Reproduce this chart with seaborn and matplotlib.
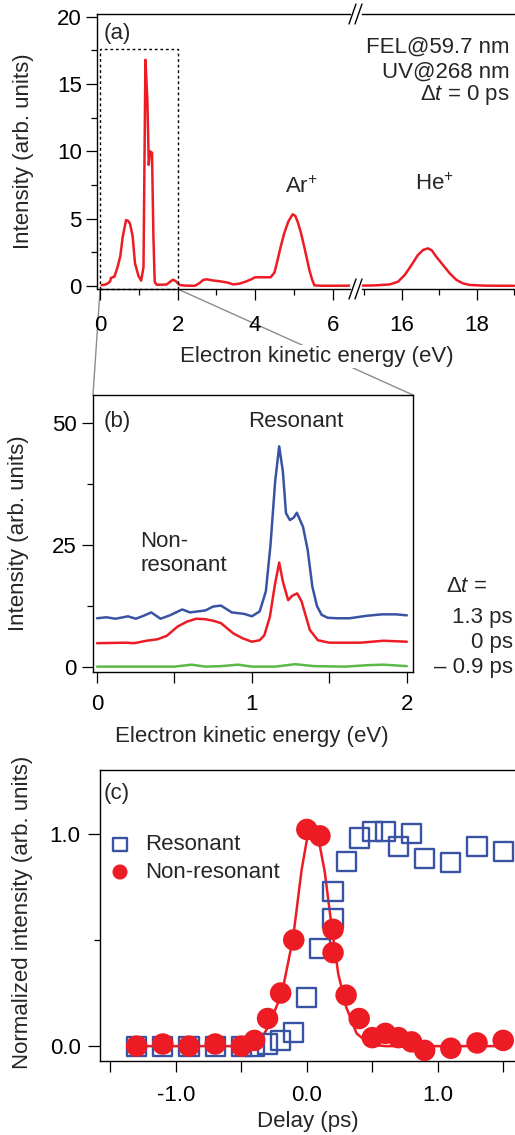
import matplotlib
matplotlib.use("Agg")
import numpy as np
import pandas as pd
import matplotlib.pyplot as plt
import seaborn as sns
from matplotlib.patches import Rectangle, ConnectionPatch
from matplotlib.lines import Line2D
from matplotlib.ticker import MultipleLocator, FixedLocator, FuncFormatter

# ---------------- data ----------------
# (a) photoelectron spectrum, Delta t = 0 ps, low-energy segment
a_low_energy = [0.04, 0.12, 0.20, 0.26, 0.28, 0.37, 0.45, 0.52, 0.585, 0.67, 0.72, 0.77,
                0.84, 0.90, 0.99, 1.06, 1.12, 1.17, 1.22, 1.256, 1.29, 1.34, 1.376, 1.41,
                1.46, 1.60, 1.72, 1.80, 1.88, 1.96, 2.05, 2.20, 2.45, 2.58, 2.66, 2.75,
                2.90, 3.10, 3.30, 3.44, 3.60, 3.75, 3.90, 4.00, 4.20, 4.40, 4.50, 4.57,
                4.66, 4.75, 4.86, 4.97, 5.04, 5.10, 5.18, 5.27, 5.34, 5.40, 5.47, 5.53,
                5.70, 6.00, 6.45]
a_low_intensity = [0.07, 0.10, 0.20, 0.35, 0.60, 0.70, 1.40, 2.20, 3.67, 4.90, 4.85, 4.65,
                   3.70, 1.70, 0.75, 0.40, 1.40, 16.8, 13.8, 9.0, 10.0, 9.9, 3.67, 0.30,
                   0.10, 0.10, 0.12, 0.30, 0.47, 0.35, 0.08, 0.03, 0.02, 0.25, 0.45, 0.50,
                   0.42, 0.35, 0.25, 0.12, 0.18, 0.32, 0.50, 0.65, 0.65, 0.65, 1.00, 1.80,
                   2.90, 3.90, 4.80, 5.33, 5.20, 4.76, 4.00, 2.90, 2.00, 1.20, 0.50, 0.05,
                   0.02, 0.02, 0.03]
# (a) high-energy segment (He+)
a_high_energy = [14.95, 15.30, 15.68, 15.90, 16.08, 16.26, 16.43, 16.57, 16.70, 16.80,
                 16.92, 17.10, 17.28, 17.46, 17.63, 17.81, 18.20, 18.60, 19.00]
a_high_intensity = [0.03, 0.05, 0.12, 0.32, 0.82, 1.56, 2.30, 2.68, 2.80, 2.65,
                    2.18, 1.56, 0.94, 0.45, 0.20, 0.08, 0.03, 0.02, 0.02]

# (b) spectra at three delays (offset)
b_energy_pos = [0.00, 0.06, 0.12, 0.20, 0.25, 0.30, 0.35, 0.41, 0.47, 0.55, 0.60, 0.70,
                0.75, 0.80, 0.87, 0.95, 1.00, 1.05, 1.09, 1.12, 1.15, 1.176, 1.20, 1.22,
                1.245, 1.27, 1.29, 1.33, 1.36, 1.39, 1.42, 1.45, 1.49, 1.55, 1.63, 1.74,
                1.84, 1.93, 2.00]
b_int_pos = [10.0, 10.2, 9.9, 10.4, 9.9, 10.5, 11.2, 9.9, 10.6, 11.8, 11.2, 11.6,
             12.4, 12.6, 11.2, 10.9, 10.4, 11.4, 15.5, 25.0, 38.0, 45.2, 40.0, 31.5,
             30.1, 30.6, 31.6, 28.7, 24.0, 16.5, 12.5, 10.7, 10.1, 10.0, 10.0, 10.5,
             10.8, 10.8, 10.6]
b_energy_zero = [0.00, 0.19, 0.24, 0.32, 0.39, 0.45, 0.52, 0.58, 0.64, 0.70, 0.75, 0.80,
                 0.88, 0.94, 1.00, 1.05, 1.08, 1.116, 1.148, 1.176, 1.20, 1.234, 1.26,
                 1.292, 1.32, 1.374, 1.426, 1.50, 1.70, 1.85, 2.00]
b_int_zero = [4.9, 5.0, 4.9, 5.4, 5.7, 6.4, 8.3, 9.3, 9.9, 9.8, 9.5, 9.0,
              6.9, 5.9, 5.2, 5.5, 6.5, 10.3, 16.8, 21.4, 17.5, 13.7, 14.6,
              15.1, 13.5, 7.6, 5.5, 5.0, 5.0, 5.4, 5.2]
b_energy_neg = [0.00, 0.30, 0.50, 0.61, 0.70, 0.80, 0.91, 1.00, 1.15, 1.28, 1.40, 1.60,
                1.75, 1.85, 2.00]
b_int_neg = [0.1, 0.1, 0.1, 0.5, 0.1, 0.2, 0.5, 0.1, 0.1, 0.6, 0.2, 0.1, 0.4, 0.5, 0.2]
b_delay_labels = ["1.3 ps", "0 ps", "\u2013 0.9 ps"]

# (c) normalized intensity vs delay
c_delay_res = [-1.3, -1.1, -0.9, -0.7, -0.5, -0.4, -0.3, -0.2, -0.1, 0.0, 0.1, 0.2, 0.2,
               0.3, 0.4, 0.5, 0.6, 0.7, 0.8, 0.9, 1.1, 1.3, 1.5]
c_res = [0.0, 0.0, 0.0, 0.0, 0.0, 0.0, 0.01, 0.025, 0.066, 0.23, 0.46, 0.60, 0.73,
         0.87, 0.98, 1.01, 1.01, 0.94, 1.0, 0.885, 0.865, 0.94, 0.915]
c_delay_non = [-1.3, -1.1, -0.9, -0.7, -0.5, -0.4, -0.3, -0.2, -0.1, 0.0, 0.1, 0.2, 0.2,
               0.3, 0.4, 0.5, 0.6, 0.7, 0.8, 0.9, 1.1, 1.3, 1.5]
c_non = [0.0, 0.01, 0.0, 0.01, 0.0, 0.027, 0.13, 0.25, 0.50, 1.02, 0.99, 0.55, 0.44,
         0.24, 0.13, 0.04, 0.06, 0.04, 0.02, -0.02, -0.01, 0.015, 0.027]
c_fit_delay = [-1.30, -0.50, -0.38, -0.295, -0.19, -0.105, -0.04, 0.00, 0.05, 0.10, 0.137,
               0.19, 0.24, 0.30, 0.38, 0.48, 0.60, 1.00, 1.50]
c_fit = [0.0, 0.0, 0.005, 0.09, 0.25, 0.51, 0.83, 0.97, 1.00, 0.94, 0.82,
         0.56, 0.34, 0.185, 0.06, 0.008, 0.0, 0.0, 0.0]
c_labels = ["Resonant", "Non-resonant"]

# ---------------- style ----------------
sns.set_theme(style="ticks")
plt.rcParams["font.family"] = ["Liberation Sans", "DejaVu Sans"]
plt.rcParams["mathtext.fontset"] = "custom"
plt.rcParams["mathtext.rm"] = "Liberation Sans"
plt.rcParams["mathtext.it"] = "Liberation Sans:italic"
plt.rcParams["axes.unicode_minus"] = False
FS = 16
plt.rcParams["font.size"] = FS

RED = "#ED1C24"
BLUE = "#3953A4"
GREEN = "#5BBA47"
LW = 1.8

W, H = 515, 1135
fig = plt.figure(figsize=(W / 100, H / 100), dpi=100)


def fx(px):
    return px / W


def fy(py):
    return 1 - py / H


def box(l, t, r, b):
    return [fx(l), fy(b), (r - l) / W, (b - t) / H]


def style_ticks(ax, xpad, ypad):
    ax.tick_params(axis="both", which="major", length=8, width=0.9, color="black",
                   labelsize=FS, labelcolor="black", direction="out")
    ax.tick_params(axis="both", which="minor", length=4.5, width=0.9, color="black",
                   direction="out")
    ax.tick_params(axis="x", pad=xpad)
    ax.tick_params(axis="y", pad=ypad)
    for s in ax.spines.values():
        s.set_linewidth(1.0)
        s.set_color("black")
    ax.set_xlabel("")
    ax.set_ylabel("")


# ---------------- panel (a) ----------------
ax_a1 = fig.add_axes(box(97, 14, 350, 289))
ax_a2 = fig.add_axes(box(362, 14, 515, 289))

sns.lineplot(x=a_low_energy, y=a_low_intensity, ax=ax_a1, color=RED, lw=LW,
             estimator=None, sort=False)
sns.lineplot(x=a_high_energy, y=a_high_intensity, ax=ax_a2, color=RED, lw=LW,
             estimator=None, sort=False)

ylim_a = (-0.22, 20.2)
ax_a1.set_xlim(-0.08, 6.45)
ax_a2.set_xlim(14.94, 19.02)
for ax in (ax_a1, ax_a2):
    ax.set_ylim(*ylim_a)
    style_ticks(ax, 11, 3)
    ax.spines["right"].set_visible(False)
ax_a2.spines["left"].set_visible(False)
ax_a2.tick_params(axis="y", which="both", left=False, labelleft=False)

ax_a1.xaxis.set_major_locator(MultipleLocator(2))
ax_a1.xaxis.set_minor_locator(MultipleLocator(1))
ax_a1.yaxis.set_major_locator(MultipleLocator(5))
ax_a1.yaxis.set_minor_locator(MultipleLocator(2.5))
ax_a2.xaxis.set_major_locator(FixedLocator([16, 18]))
ax_a2.xaxis.set_minor_locator(FixedLocator([15, 17, 19]))

# zoom window drawn on (a)
zoom_lo, zoom_hi = 0.0, 2.0
zoom_top = 17.6
ax_a1.add_patch(Rectangle((zoom_lo, ylim_a[0]), zoom_hi - zoom_lo, zoom_top - ylim_a[0],
                          fill=False, ec="black", lw=1.0, ls=(0, (2, 2)), zorder=3,
                          clip_on=False))

# axis break marks
for yc in (14, 289):
    for x0 in (349, 355):
        fig.add_artist(Line2D([fx(x0), fx(x0 + 7)], [fy(yc + 10), fy(yc - 10)],
                              color="black", lw=1.0))

fig.text(fx(104), fy(34), "(a)", ha="left", va="center", fontsize=FS)
fig.text(fx(510), fy(47), "FEL@59.7 nm", ha="right", va="center", fontsize=FS)
fig.text(fx(510), fy(72), "UV@268 nm", ha="right", va="center", fontsize=FS)
fig.text(fx(510), fy(95), "\u0394$t$ = 0 ps", ha="right", va="center", fontsize=FS)
fig.text(fx(285), fy(193), "Ar$^{+}$", ha="left", va="baseline", fontsize=FS)
fig.text(fx(415), fy(190), "He$^{+}$", ha="left", va="baseline", fontsize=FS)

fig.text(fx(24), fy(151), "Intensity (arb. units)", rotation=90, ha="center",
         va="center", fontsize=FS)
fig.text(fx(317), fy(362), "Electron kinetic energy (eV)", ha="center", va="baseline",
         fontsize=FS, bbox=dict(fc="white", ec="none", pad=1), zorder=5)

# ---------------- panel (b) ----------------
ax_b = fig.add_axes(box(93, 395, 413, 672))
sns.lineplot(x=b_energy_pos, y=b_int_pos, ax=ax_b, color=BLUE, lw=LW,
             estimator=None, sort=False)
sns.lineplot(x=b_energy_zero, y=b_int_zero, ax=ax_b, color=RED, lw=LW,
             estimator=None, sort=False)
sns.lineplot(x=b_energy_neg, y=b_int_neg, ax=ax_b, color=GREEN, lw=LW,
             estimator=None, sort=False)
ax_b.set_xlim(-0.026, 2.04)
ax_b.set_ylim(-1.0, 55.7)
style_ticks(ax_b, 8, 4)
ax_b.xaxis.set_major_locator(MultipleLocator(1))
ax_b.xaxis.set_minor_locator(MultipleLocator(0.5))
ax_b.tick_params(axis="x", which="minor", length=8)
ax_b.yaxis.set_major_locator(MultipleLocator(25))
ax_b.yaxis.set_minor_locator(MultipleLocator(12.5))

fig.text(fx(104), fy(422), "(b)", ha="left", va="center", fontsize=FS)
fig.text(fx(248), fy(427), "Resonant", ha="left", va="baseline", fontsize=FS)
fig.text(fx(140), fy(547), "Non-", ha="left", va="baseline", fontsize=FS)
fig.text(fx(140), fy(571), "resonant", ha="left", va="baseline", fontsize=FS)
fig.text(fx(446), fy(592), "\u0394$t$ =", ha="left", va="baseline", fontsize=FS)
for lab, yb in zip(b_delay_labels, (623, 648, 673)):
    fig.text(fx(513), fy(yb), lab, ha="right", va="baseline", fontsize=FS)

fig.text(fx(18.5), fy(533), "Intensity (arb. units)", rotation=90, ha="center",
         va="center", fontsize=FS)
fig.text(fx(252), fy(742), "Electron kinetic energy (eV)", ha="center", va="baseline",
         fontsize=FS)

# zoom connector lines
for xa, xb in ((zoom_lo, 0.0), (zoom_hi, 1.0)):
    con = ConnectionPatch(xyA=(xa, ylim_a[0]), coordsA=ax_a1.transData,
                          xyB=(xb, 1.0), coordsB=ax_b.transAxes,
                          color="#8c8c8c", lw=1.0, zorder=-1)
    fig.add_artist(con)

# ---------------- panel (c) ----------------
ax_c = fig.add_axes(box(100, 770, 515, 1061))
sns.lineplot(x=c_fit_delay, y=c_fit, ax=ax_c, color=RED, lw=LW,
             estimator=None, sort=False, zorder=2)
sns.scatterplot(x=c_delay_res, y=c_res, ax=ax_c, marker="s", s=190,
                fc="none", ec=BLUE, linewidth=1.7, label=c_labels[0], zorder=3)
sns.scatterplot(x=c_delay_non, y=c_non, ax=ax_c, marker="o", s=240,
                color=RED, ec="none", linewidth=0, label=c_labels[1], zorder=4)
ax_c.set_xlim(-1.58, 1.59)
ax_c.set_ylim(-0.07, 1.30)
style_ticks(ax_c, 9, 5)
ax_c.spines["right"].set_visible(False)
ax_c.xaxis.set_major_locator(FixedLocator([-1.0, 0.0, 1.0]))
ax_c.xaxis.set_minor_locator(FixedLocator([-1.5, -0.5, 0.5, 1.5]))
ax_c.xaxis.set_major_formatter(FuncFormatter(lambda v, p: f"{v:.1f}"))
ax_c.tick_params(axis="x", which="minor", length=8)
ax_c.yaxis.set_major_locator(FixedLocator([0.0, 1.0]))
ax_c.yaxis.set_minor_locator(FixedLocator([0.5]))
ax_c.yaxis.set_major_formatter(FuncFormatter(lambda v, p: f"{v:.1f}"))
ax_c.tick_params(axis="y", which="major", length=9)

leg = ax_c.legend(loc="upper left", bbox_to_anchor=(0.0, 0.81), frameon=False,
                  fontsize=FS, handlelength=1.0, handletextpad=0.65,
                  labelspacing=0.3, borderaxespad=0.0, markerscale=0.7)

fig.text(fx(104), fy(794), "(c)", ha="left", va="center", fontsize=FS)
fig.text(fx(23), fy(912), "Normalized intensity (arb. units)", rotation=90,
         ha="center", va="center", fontsize=FS)
fig.text(fx(308), fy(1127), "Delay (ps)", ha="center", va="baseline", fontsize=FS)

fig.savefig("out.png", dpi=100)
